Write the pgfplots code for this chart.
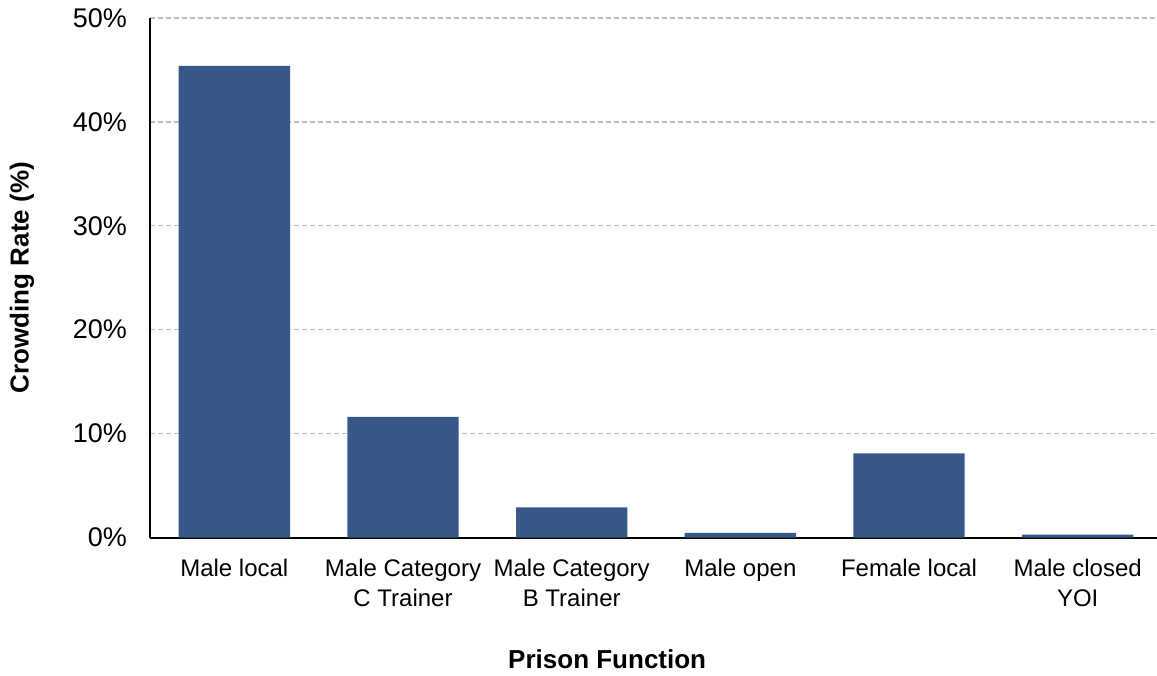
\documentclass[border=0pt]{standalone}
\usepackage{pgfplots}
\pgfplotsset{compat=1.18}
\usepackage{fontspec}
\setmainfont{Liberation Sans}
\definecolor{barblue}{RGB}{54,89,135}
\definecolor{gridgray}{RGB}{190,190,190}
\begin{document}
\begin{tikzpicture}
\begin{axis}[
  scale only axis,
  width=503.5pt, height=259.75pt,
  xmin=-0.5, xmax=5.47,
  ymin=0, ymax=50,
  axis x line=bottom, axis y line=left,
  axis line style={-, black, line width=1pt},
  ytick={0,10,20,30,40,50},
  yticklabel={\pgfmathprintnumber{\tick}\%},
  ymajorgrids,
  major grid style={gridgray, dashed, dash pattern=on 2.5pt off 1.5pt, line width=0.6pt},
  major tick length=0pt,
  xtick=data,
  xticklabels={Male local, Male Category\\C Trainer, Male Category\\B Trainer, Male open, Female local, Male closed\\YOI},
  xticklabel style={align=center, font=\fontsize{12}{15}\selectfont, yshift=-7.5pt},
  yticklabel style={font=\fontsize{13.5}{15}\selectfont, xshift=-8pt},
  /pgf/number format/assume math mode=true,
  xlabel={\bfseries Prison Function},
  xlabel style={font=\fontsize{13}{15}\selectfont, at={(axis description cs:0.454,-0.2339)}, anchor=center},
  ylabel={\bfseries Crowding Rate (\%)},
  ylabel style={font=\fontsize{13}{15}\selectfont, at={(axis description cs:-0.1271,0.5)}, anchor=center},
  ybar, bar width=0.66,
  bar shift=0pt,
  clip=false,
]
\addplot[fill=barblue, draw=none] coordinates {(0,45.4) (1,11.6) (2,2.9) (3,0.45) (4,8.1) (5,0.28)};
\end{axis}
\pgfresetboundingbox
\path (-75pt,-68.75pt) rectangle (503.5pt,268.75pt);
\end{tikzpicture}
\end{document}
